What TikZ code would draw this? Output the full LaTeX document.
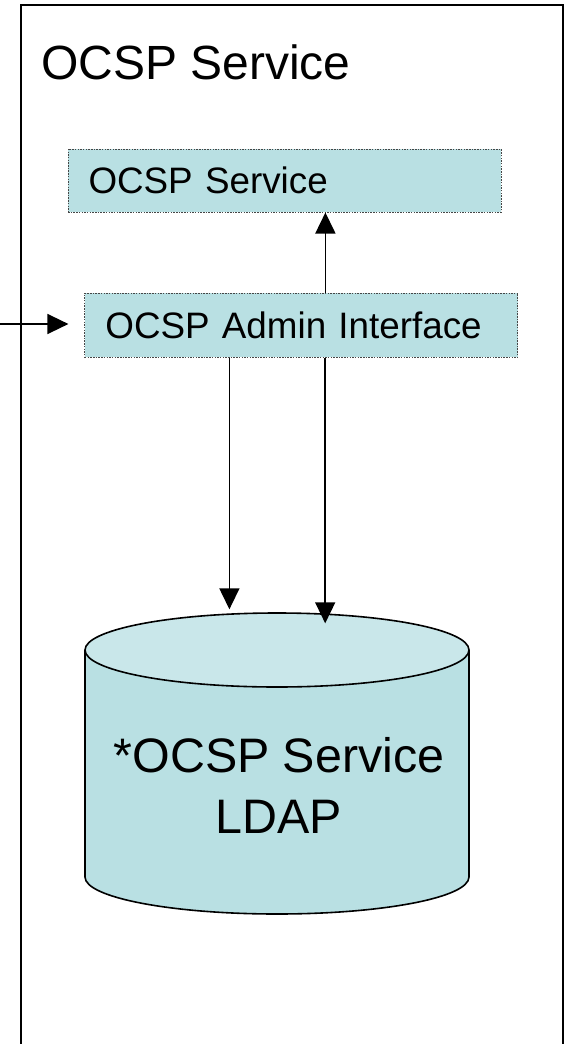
\documentclass[tikz,border=0pt]{standalone}
\usepackage{fontspec}
\setmainfont{Liberation Sans}
\usetikzlibrary{arrows.meta}
\definecolor{bodyc}{RGB}{185,224,227}
\definecolor{topc}{RGB}{201,231,234}
\definecolor{dotc}{RGB}{70,70,70}
\tikzset{
  svcbox/.style={draw=dotc, line width=1pt, dash pattern=on 1.5pt off 1.2pt, fill=bodyc,
    minimum width=433pt, text width=392pt, align=left, inner xsep=20pt, inner ysep=0pt,
    font=\fontsize{36.8}{44}\selectfont},
  arr/.style={line width=1.5pt, -{Triangle[length=21pt,width=20pt]}},
  frame/.style={line width=2.2pt},
}
\begin{document}
\begin{tikzpicture}[x=1pt,y=-1pt]
\useasboundingbox (0,0) rectangle (565,1044);
\fill[white] (0,0) rectangle (565,1044);
% frame
\draw[frame] (21,1060) -- (21,5) -- (563,5) -- (563,1060);
\node[anchor=base west, inner sep=0pt, font=\fontsize{48}{58}\selectfont] (title) at (41,79) {OCSP Service};
% boxes
\node[svcbox, minimum height=63pt] (svc) at (284.5,180.5) {OCSP Service};
\node[svcbox, minimum height=64pt] (adm) at (301.4,325) {OCSP Admin Interface};
% cylinder
\draw[line width=1.6pt, fill=bodyc] (85,650) -- (85,877)
  arc[start angle=180, end angle=360, x radius=192, y radius=-37] -- (469,650);
\draw[line width=1.6pt, fill=topc] (277,650) ellipse[x radius=192, y radius=37];
\node[align=center, inner sep=0pt, font=\fontsize{48.4}{61}\selectfont] (db) at (279,785) {*OCSP Service\\LDAP};
% coordinates
\coordinate (src) at (-5,324);
\coordinate (upx) at (325.4,0);
\coordinate (dl) at (229.4,609.3);
\coordinate (dr) at (325.2,623.3);
% connectors
\draw[arr, shorten >=16pt] (src) -- (src -| adm.west);
\draw[arr] (adm.north -| upx) -- (svc.south -| upx);
\draw[arr] (adm.south -| dl) -- (dl);
\draw[arr] (adm.south -| dr) -- (dr);
\end{tikzpicture}
\end{document}
